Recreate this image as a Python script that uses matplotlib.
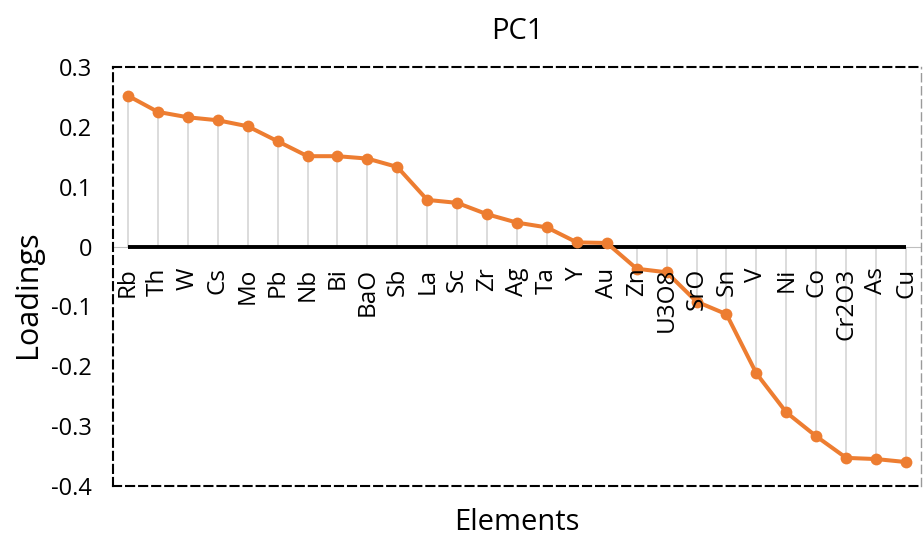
import matplotlib.pyplot as plt
import numpy as np

plt.rcParams["font.family"] = ["Open Sans", "DejaVu Sans"]
plt.rcParams["lines.scale_dashes"] = False

elements = ["Rb", "Th", "W", "Cs", "Mo", "Pb", "Nb", "Bi", "BaO", "Sb", "La", "Sc",
            "Zr", "Ag", "Ta", "Y", "Au", "Zn", "U3O8", "SrO", "Sn", "V", "Ni", "Co",
            "Cr2O3", "As", "Cu"]
loadings = [0.252, 0.225, 0.216, 0.211, 0.201, 0.176, 0.151, 0.151, 0.147, 0.133,
            0.078, 0.073, 0.054, 0.040, 0.032, 0.007, 0.006, -0.037, -0.043, -0.092,
            -0.113, -0.212, -0.277, -0.317, -0.353, -0.355, -0.360]
ytick_values = [0.3, 0.2, 0.1, 0, -0.1, -0.2, -0.3, -0.4]
ytick_labels = ["0.3", "0.2", "0.1", "0", "-0.1", "-0.2", "-0.3", "-0.4"]

ORANGE = "#ED7D31"

fig = plt.figure(figsize=(9.24, 5.40), dpi=100)
ax = fig.add_axes([113 / 924, 54 / 540, 808 / 924, 419 / 540])

x = np.arange(len(elements))

# drop lines from each point down/up to the zero axis
ax.vlines(x, 0, loadings, color="#D9D9D9", lw=1.3, zorder=1)
ax.axhline(0, color="#BFBFBF", lw=0.8, zorder=1)
ax.hlines(0, x[0], x[-1], color="black", lw=2.8, zorder=2)

ax.plot(x, loadings, color=ORANGE, lw=2.9, marker="o", markersize=8.5,
        markeredgewidth=0, zorder=3)

ax.set_xlim(-0.5, len(elements) - 0.5)
ax.set_ylim(-0.4, 0.3)
ax.set_yticks(ytick_values)
ax.set_yticklabels(ytick_labels)
ax.tick_params(axis="y", length=0, pad=15, labelsize=17)
ax.set_xticks([])

# category labels hang just below the zero line
for xi, name in zip(x, elements):
    ax.annotate(name, (xi, 0), xytext=(0, -15), textcoords="offset points",
                rotation=90, ha="center", va="top", fontsize=17.5, zorder=4)

for side in ["left", "top", "bottom"]:
    ax.spines[side].set_linestyle((0, (5.8, 3.6)))
    ax.spines[side].set_linewidth(1.5)
    ax.spines[side].set_color("black")
ax.spines["right"].set_linestyle((0, (5.8, 3.6)))
ax.spines["right"].set_linewidth(1.0)
ax.spines["right"].set_color("#9A9A9A")

ax.set_title("PC1", fontsize=21, pad=20)
fig.text(28 / 924, 1 - 294 / 540, "Loadings", rotation=90, ha="center",
         va="center", fontsize=22)
fig.text(517 / 924, 1 - 523 / 540, "Elements", ha="center", va="center",
         fontsize=21)

fig.savefig("out.png", dpi=100)
